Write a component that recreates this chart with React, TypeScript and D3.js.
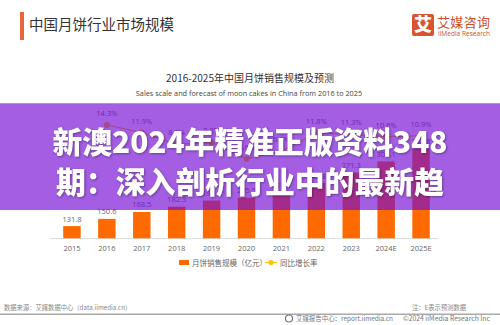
import React from "react";
import * as d3 from "d3";

const years = ["2015","2016","2017","2018","2019","2020","2021","2022","2023","2024E","2025E"];
const sales = [131.8,150.6,168.5,182.3,198.3,205.5,218.1,243.8,271.3,300.1,332.8];
const growth: (number | null)[] = [null,14.3,11.9,8.2,8.8,3.6,6.1,11.8,11.3,10.6,10.9];
const bannerLines = ["新澳2024年精准正版资料348", "期：深入剖析行业中的最新趋"];

const W = 500, H = 325;
const CJK = "'Noto Sans CJK SC', 'Noto Sans', sans-serif";
const LAT = "'Open Sans', 'Noto Sans CJK SC', sans-serif";

export default function App() {
  const x = d3.scaleBand<string>().domain(years).range([54.5, 438.5]).paddingInner(0.5).paddingOuter(0.25);
  const yBar = d3.scaleLinear().domain([100, 340]).range([238.3, 146.1]);
  const yLine = d3.scaleLinear().domain([0, 20]).range([170.3, 106.9]);
  const cx = (d: string) => (x(d) as number) + x.bandwidth() / 2;
  const linePts = years.map((d, i) => ({ d, g: growth[i] })).filter(p => p.g !== null) as { d: string; g: number }[];
  const lineGen = d3.line<{ d: string; g: number }>().x(p => cx(p.d)).y(p => yLine(p.g));

  return (
    <div style={{ position: "fixed", left: 0, top: 0, width: W, height: H, background: "#fff" }}>
      <svg width={W} height={H} style={{ display: "block" }}>
        <rect width={W} height={H} fill="#fff" />
        {/* header */}
        <rect x={20} y={12} width={4} height={28} fill="#e8643c" />
        <text x={29} y={30} fontFamily={CJK} fontSize={14.5} fill="#333">中国月饼行业市场规模</text>
        {/* logo */}
        <rect x={412} y={14} width={22} height={22} rx={2} fill="#d9532c" />
        <text x={423} y={31} textAnchor="middle" fontFamily={CJK} fontWeight={900} fontSize={18} fill="#fff">艾</text>
        <text x={437} y={27} fontFamily={CJK} fontSize={13} fill="#c9502c" textLength={53}>艾媒咨询</text>
        <text x={438} y={35.5} fontFamily={LAT} fontSize={6.5} fill="#c9502c" textLength={52}>iiMedia Research</text>
        {/* chart titles */}
        <text x={250} y={82} textAnchor="middle" fontFamily={CJK} fontSize={10} fill="#333">2016-2025年中国月饼销售规模及预测</text>
        <text x={249} y={96} textAnchor="middle" fontFamily={LAT} fontSize={7.3} fill="#444">Sales scale and forecast of moon cakes in China from 2016 to 2025</text>
        {/* axis */}
        <line x1={50} x2={438} y1={238.5} y2={238.5} stroke="#ddd" strokeWidth={1} />
        {years.map((d, i) => (
          <g key={d}>
            <rect x={x(d)} y={yBar(sales[i])} width={x.bandwidth()} height={yBar(100) - yBar(sales[i])} fill="#ff6a00" />
            <text x={cx(d)} y={yBar(sales[i]) - 4.5} textAnchor="middle" fontFamily={LAT} fontSize={7.5} fill="#666">{sales[i].toFixed(1)}</text>
            <text x={cx(d)} y={251} textAnchor="middle" fontFamily={LAT} fontSize={7.5} fill="#666">{d}</text>
          </g>
        ))}
        <path d={lineGen(linePts) as string} fill="none" stroke="#ffc000" strokeWidth={1.2} />
        {linePts.map(p => (
          <g key={p.d}>
            <circle cx={cx(p.d)} cy={yLine(p.g)} r={3} fill="#ffc000" />
            <text x={cx(p.d)} y={yLine(p.g) - 9} textAnchor="middle" fontFamily={LAT} fontSize={7.5} fill="#666">{p.g.toFixed(1)}%</text>
          </g>
        ))}
        {/* legend */}
        <rect x={179} y={260} width={10} height={5} fill="#ff6a00" />
        <text x={192} y={265.5} fontFamily={CJK} fontSize={7.5} fill="#666">月饼销售规模（亿元）</text>
        <line x1={265} x2={277} y1={262.5} y2={262.5} stroke="#ffc000" strokeWidth={1.2} />
        <circle cx={271} cy={262.5} r={2.5} fill="#ffc000" />
        <text x={280} y={265.5} fontFamily={CJK} fontSize={7.5} fill="#666">同比增长率</text>
        {/* footer */}
        <text x={4} y={310} fontFamily={CJK} fontSize={6.3} fill="#888">数据来源：艾媒数据中心（data.iimedia.cn）</text>
        <text x={412} y={310} fontFamily={CJK} fontSize={6.3} fill="#888">注：E表示预测数据</text>
        <rect x={0} y={313.5} width={W} height={1.5} fill="#aaa" />
        <circle cx={289} cy={318.5} r={3.5} fill="none" stroke="#777" strokeWidth={1.2} />
        <text x={296} y={321} fontFamily={CJK} fontSize={7.3} fill="#777" textLength={97} lengthAdjust="spacingAndGlyphs">艾媒报告中心：report.iimedia.cn</text>
        <text x={403} y={321} fontFamily={CJK} fontSize={7.3} fill="#777" textLength={87} lengthAdjust="spacingAndGlyphs">©2024  iiMedia Research Inc</text>
        {/* banner overlay */}
        <rect x={0} y={103.3} width={W} height={106.7} fill="rgba(115,10,212,0.66)" />
        {bannerLines.map((t, i) => (
          <text key={i} x={250} y={153 + i * 40} textAnchor="middle" fontFamily={CJK} fontWeight={900} fontSize={30}
            textLength={i === 0 ? 395 : 388} lengthAdjust="spacingAndGlyphs"
            fill="#fff" style={{ filter: "drop-shadow(1px 1px 1px rgba(0,0,0,0.35))" }}>{t}</text>
        ))}
      </svg>
    </div>
  );
}
